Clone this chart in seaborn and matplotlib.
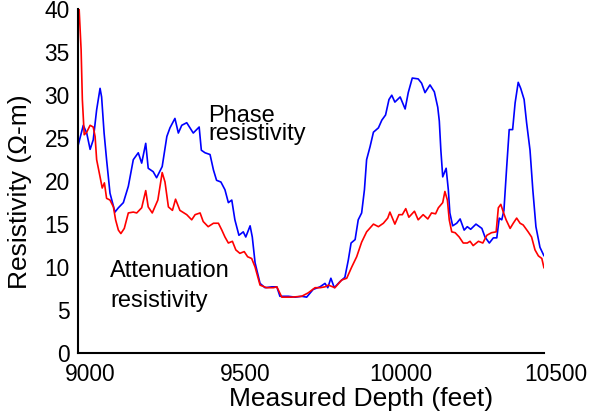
import matplotlib
matplotlib.use("Agg")
import matplotlib.pyplot as plt
import matplotlib.transforms as mtransforms
import seaborn as sns
import pandas as pd

# Phase resistivity (blue)
phase_depth = [9000, 9017, 9028, 9039, 9049, 9060, 9071, 9076, 9084, 9092, 9103, 9119, 9130, 9146,
               9162, 9178, 9194, 9205, 9218, 9226, 9242, 9253, 9271, 9286, 9296, 9312, 9323, 9334,
               9350, 9371, 9390, 9397, 9409, 9425, 9436, 9446, 9460, 9473, 9484, 9495, 9505, 9518,
               9532, 9540, 9554, 9561, 9570, 9586, 9602, 9624, 9640, 9650, 9677, 9699, 9720, 9736,
               9757, 9779, 9795, 9804, 9814, 9825, 9843, 9859, 9870, 9879, 9892, 9902, 9913, 9922,
               9929, 9940, 9951, 9967, 9978, 9990, 10001, 10010, 10020, 10037, 10053, 10063, 10076,
               10095, 10106, 10117, 10133, 10147, 10158, 10163, 10168, 10174, 10185, 10192, 10197,
               10206, 10219, 10230, 10243, 10253, 10264, 10281, 10300, 10310, 10324, 10337, 10348,
               10356, 10364, 10371, 10380, 10388, 10399, 10407, 10417, 10425, 10436, 10444, 10455,
               10464, 10474, 10487, 10500]
phase_res = [24.1, 26.5, 25.6, 23.7, 24.8, 28.3, 30.8, 29.8, 25.6, 22.5, 18.6, 16.4, 16.9, 17.5,
             19.4, 22.5, 23.3, 22.1, 24.4, 21.5, 21.1, 20.4, 21.7, 25.2, 26.2, 27.3, 25.6, 26.5,
             26.8, 25.6, 26.3, 23.6, 23.3, 23.1, 21.3, 20.1, 19.9, 19.0, 17.5, 17.8, 15.5, 13.7,
             14.1, 13.5, 14.8, 13.5, 10.5, 8.1, 7.6, 7.7, 7.7, 6.6, 6.6, 6.5, 6.6, 6.5,
             7.4, 7.7, 8.1, 7.6, 8.7, 7.6, 8.3, 8.8, 10.8, 12.8, 13.2, 15.5, 16.3, 19.0,
             22.5, 24.0, 25.7, 26.2, 27.1, 27.7, 29.5, 30.0, 29.2, 29.8, 28.4, 30.3, 32.0,
             31.9, 31.4, 30.3, 31.2, 30.4, 28.6, 27.0, 23.6, 20.5, 21.5, 19.0, 16.3,
             14.8, 15.1, 15.6, 14.3, 14.7, 14.4, 15.0, 14.5, 13.5, 12.8, 13.4, 13.4,
             15.7, 15.5, 16.6, 21.7, 26.0, 26.0, 29.1, 31.5, 30.8, 29.5, 26.8, 23.6,
             19.0, 14.7, 12.3, 11.3]

# Attenuation resistivity (red)
atten_depth = [9001, 9010, 9014, 9020, 9028, 9039, 9049, 9055, 9060, 9071, 9078, 9085, 9092, 9103,
               9114, 9121, 9130, 9138, 9149, 9162, 9178, 9189, 9205, 9218, 9226, 9239, 9257, 9271,
               9280, 9291, 9304, 9314, 9328, 9350, 9366, 9377, 9393, 9403, 9419, 9436, 9452, 9463,
               9473, 9484, 9497, 9508, 9521, 9535, 9546, 9559, 9570, 9586, 9607, 9629, 9640, 9656,
               9688, 9720, 9741, 9763, 9779, 9795, 9806, 9827, 9849, 9865, 9881, 9897, 9913, 9929,
               9951, 9967, 9983, 9997, 10004, 10020, 10033, 10044, 10055, 10065, 10083, 10095,
               10111, 10126, 10138, 10151, 10160, 10174, 10181, 10189, 10195, 10203, 10214, 10227,
               10240, 10253, 10262, 10272, 10289, 10303, 10316, 10331, 10346, 10353, 10361, 10369,
               10378, 10391, 10401, 10412, 10423, 10433, 10449, 10460, 10471, 10482, 10493, 10500]
atten_res = [42.0, 35.3, 29.5, 25.4, 25.7, 26.5, 26.3, 25.2, 22.5, 20.5, 19.2, 19.8, 18.0, 17.8,
             17.0, 15.5, 14.3, 13.9, 14.5, 16.3, 16.4, 16.3, 16.9, 18.9, 17.0, 16.3, 17.8, 21.0,
             19.9, 17.0, 16.6, 17.9, 16.6, 16.1, 15.5, 16.1, 16.3, 15.3, 14.7, 15.1, 15.1, 14.3,
             13.5, 12.8, 13.0, 12.0, 11.6, 11.8, 11.2, 11.0, 10.0, 7.9, 7.6, 7.6, 7.7, 6.5,
             6.5, 6.6, 7.0, 7.6, 7.6, 7.7, 7.9, 7.6, 8.5, 8.7, 10.0, 11.2, 12.9, 14.1,
             15.0, 14.7, 15.1, 15.7, 16.4, 15.0, 16.1, 16.1, 16.8, 15.8, 16.5, 15.5,
             16.1, 15.6, 16.3, 16.2, 16.9, 17.5, 18.8, 17.8, 15.5, 14.1, 14.0, 13.5,
             12.8, 12.8, 13.0, 12.5, 13.0, 12.8, 13.7, 14.0, 14.1, 16.9, 17.3, 16.4,
             15.5, 14.5, 15.1, 15.7, 15.1, 14.9, 14.1, 13.5, 12.0, 11.3, 11.0, 9.9]

x_ticks = [9000, 9500, 10000, 10500]
y_ticks = [0, 5, 10, 15, 20, 25, 30, 35, 40]

sns.set_theme(style="white")
plt.rcParams['font.family'] = ['Liberation Sans', 'DejaVu Sans']
plt.rcParams['text.color'] = 'black'
plt.rcParams['axes.labelcolor'] = 'black'
plt.rcParams['xtick.color'] = 'black'
plt.rcParams['ytick.color'] = 'black'

fig = plt.figure(figsize=(5.92, 4.16), dpi=100)
ax = fig.add_axes([78 / 592, 63 / 416, 466 / 592, (353 - 9.3) / 416])

df_p = pd.DataFrame({"depth": phase_depth, "res": phase_res})
df_a = pd.DataFrame({"depth": atten_depth, "res": atten_res})
sns.lineplot(data=df_p, x="depth", y="res", ax=ax, color="#0000ff", lw=1.2,
             sort=False, estimator=None)
sns.lineplot(data=df_a, x="depth", y="res", ax=ax, color="#ff0000", lw=1.2,
             sort=False, estimator=None)

ax.set_xlim(9000, 10500)
ax.set_ylim(0, 40)
ax.set_xticks(x_ticks)
ax.set_yticks(y_ticks)
ax.set_xticklabels([str(v) for v in x_ticks], fontsize=16.4)
ax.set_yticklabels([str(v) for v in y_ticks], fontsize=16.4)
ax.tick_params(direction="in", length=4, width=1, colors="black")
ax.tick_params(axis="x", pad=7)
ax.tick_params(axis="y", pad=6)

# reference draws x tick labels slightly right of their ticks
shift = mtransforms.ScaledTranslation(12 / 100, 0, fig.dpi_scale_trans)
for lab in ax.get_xticklabels():
    lab.set_transform(lab.get_transform() + shift)

ax.set_xlabel("Measured Depth (feet)", fontsize=19)
ax.set_ylabel("Resistivity (Ω-m)", fontsize=19)
ax.xaxis.set_label_coords(0.607, -0.099)
ax.yaxis.set_label_coords(-0.098, 0.468)

for s in ["top", "right"]:
    ax.spines[s].set_visible(False)
for s in ["left", "bottom"]:
    ax.spines[s].set_color("black")
    ax.spines[s].set_linewidth(1.5)

ax.text(9419, 24.8, "Phase\nresistivity", fontsize=17, linespacing=0.78,
        ha="left", va="baseline")
ax.text(9103, 8.9, "Attenuation", fontsize=17, ha="left", va="baseline")
ax.text(9103, 5.35, "resistivity", fontsize=17, ha="left", va="baseline")

fig.savefig("out.png", dpi=100)
